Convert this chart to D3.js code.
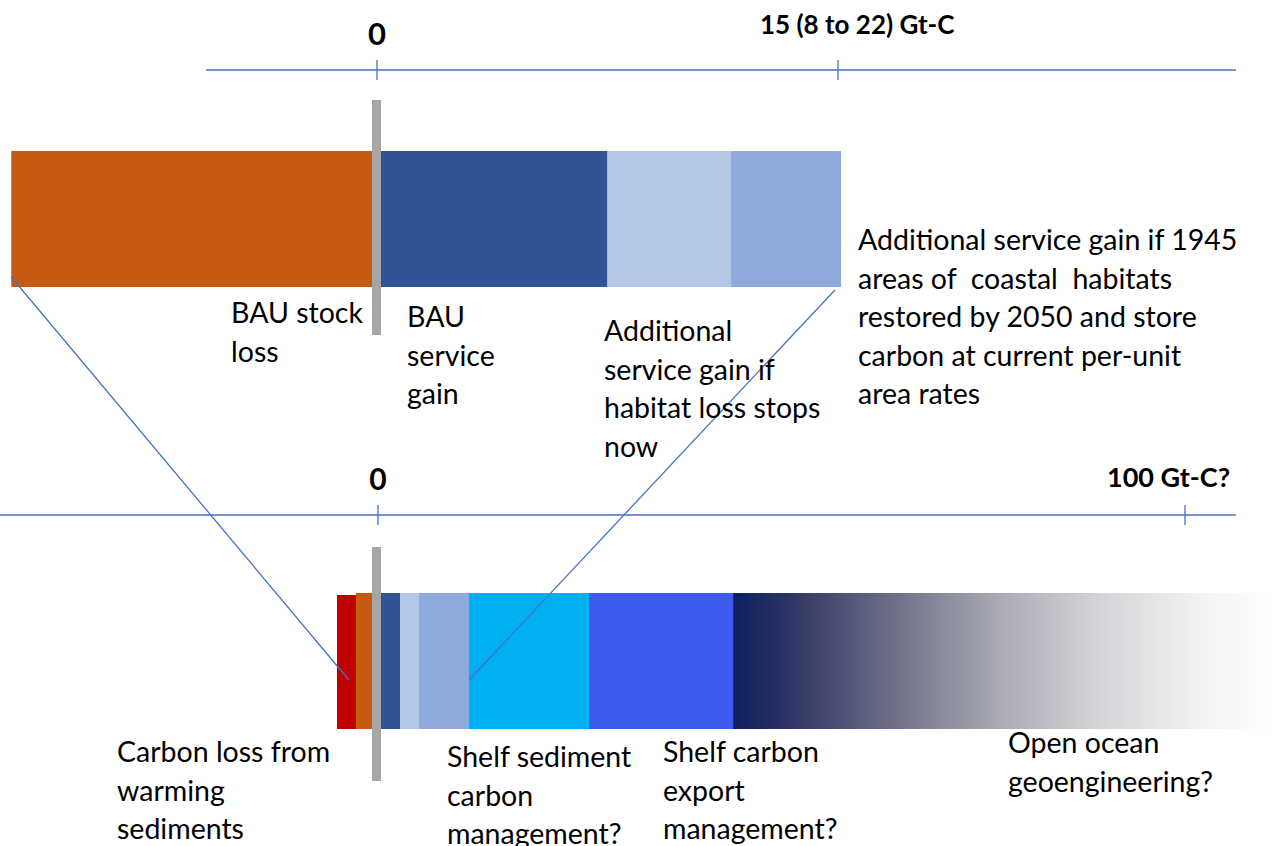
<!DOCTYPE html>
<html>
<head>
<meta charset="utf-8">
<script src="https://cdn.jsdelivr.net/npm/d3@7"></script>
<style>
  body { margin: 0; background: #fff; }
  text { font-family: Lato, "Open Sans", sans-serif; fill: #000; }
</style>
</head>
<body>
<div id="chart"></div>
<script>
// top panel: coastal habitats (Gt-C)
const topNames = ["BAU stock loss", "BAU service gain", "Additional gain if loss stops", "Additional gain if 1945 areas restored"];
const topValues = [-11.9, 7.5, 4.0, 3.6];
const topColors = ["#C55A11", "#2F5597", "#B4C7E7", "#8FAADC"];
const topTicks = [0, 15];
const topTickLabels = ["0", "15 (8 to 22) Gt-C"];

// bottom panel: all options (Gt-C)
const bottomNames = ["Carbon loss from warming sediments", "BAU stock loss", "BAU service gain", "Additional gain if loss stops",
  "Additional gain if restored", "Shelf sediment carbon management", "Shelf carbon export management", "Open ocean geoengineering"];
const bottomValues = [-2.35, -2.73, 2.73, 2.35, 6.2, 14.87, 17.85, 66.5];
const bottomColors = ["#C00000", "#C55A11", "#2F5597", "#B4C7E7", "#8FAADC", "#00B0F0", "#3C5AEE", "url(#fade)"];
const bottomTicks = [0, 100];
const bottomTickLabels = ["0", "100 Gt-C?"];

// zoom lines linking top bar to bottom bar
const connectors = [{ top: -11.9, bottom: -3.6 }, { top: 14.9, bottom: 11.3 }];

const width = 1281, height = 846;
const svg = d3.select("#chart").append("svg")
  .attr("width", width).attr("height", height);

const defs = svg.append("defs");
const grad = defs.append("linearGradient").attr("id", "fade")
  .attr("x1", "0%").attr("x2", "100%").attr("y1", "0%").attr("y2", "0%");
[[0, "#0B1F5E"], [0.12, "#333865"], [0.3, "#6E7087"], [0.5, "#ABABB5"], [0.7, "#D8D8DC"], [0.88, "#F3F3F3"], [1, "#FFFFFF"]]
  .forEach(s => grad.append("stop").attr("offset", s[0]).attr("stop-color", s[1]));

const xTop = d3.scaleLinear().domain([0, 15]).range([377, 838]);
const xBot = d3.scaleLinear().domain([0, 100]).range([378, 1185]);

const axisColor = "#4472C4";

function stack(values) {
  // negatives stack leftwards from 0, positives rightwards
  let neg = 0, pos = 0;
  const out = values.map(v => ({ v }));
  for (let i = values.length - 1; i >= 0; i--) {
    if (values[i] < 0) { out[i].x0 = neg + values[i]; out[i].x1 = neg; neg += values[i]; }
  }
  values.forEach((v, i) => {
    if (v >= 0) { out[i].x0 = pos; out[i].x1 = pos + v; pos += v; }
  });
  return out;
}

function drawAxis(x, y, extent, ticks, labels, labelPos) {
  const g = svg.append("g");
  g.append("line").attr("x1", extent[0]).attr("x2", extent[1])
    .attr("y1", y).attr("y2", y).attr("stroke", axisColor).attr("stroke-width", 1.3);
  g.selectAll(".tick").data(ticks).enter().append("line")
    .attr("x1", d => x(d)).attr("x2", d => x(d))
    .attr("y1", y - 10).attr("y2", y + 10)
    .attr("stroke", axisColor).attr("stroke-width", 1.3);
  g.selectAll(".lbl").data(ticks).enter().append("text")
    .attr("x", (d, i) => labelPos[i].dx == null ? x(d) : labelPos[i].dx)
    .attr("y", (d, i) => labelPos[i].y)
    .attr("text-anchor", (d, i) => labelPos[i].dx == null ? "middle" : "start")
    .style("font-weight", "bold")
    .style("font-size", (d, i) => labelPos[i].size + "px")
    .text((d, i) => labels[i]);
}

drawAxis(xTop, 70, [206, 1236], topTicks, topTickLabels,
  [{ y: 45, size: 31 }, { dx: 760, y: 34, size: 26 }]);
drawAxis(xBot, 515, [0, 1236], bottomTicks, bottomTickLabels,
  [{ y: 490, size: 30 }, { dx: 1107, y: 487, size: 27 }]);

// top bar
svg.append("g").selectAll("rect").data(stack(topValues)).enter().append("rect")
  .attr("x", d => xTop(d.x0)).attr("width", d => xTop(d.x1) - xTop(d.x0))
  .attr("y", 151).attr("height", 136)
  .attr("fill", (d, i) => topColors[i]);
svg.append("rect").attr("x", xTop(0) - 5).attr("width", 9)
  .attr("y", 100).attr("height", 235).attr("fill", "#A6A6A6");

// bottom bar
svg.append("g").selectAll("rect").data(stack(bottomValues)).enter().append("rect")
  .attr("x", d => xBot(d.x0)).attr("width", d => xBot(d.x1) - xBot(d.x0))
  .attr("y", (d, i) => i === 0 ? 595 : 593).attr("height", (d, i) => i === 0 ? 134 : 136)
  .attr("fill", (d, i) => bottomColors[i]);
svg.append("rect").attr("x", xBot(0) - 6).attr("width", 9)
  .attr("y", 547).attr("height", 234).attr("fill", "#A6A6A6");

// connectors
svg.append("g").selectAll("line").data(connectors).enter().append("line")
  .attr("x1", d => xTop(d.top)).attr("y1", (d, i) => i === 0 ? 277 : 290)
  .attr("x2", d => xBot(d.bottom)).attr("y2", 680)
  .attr("stroke", axisColor).attr("stroke-width", 1.3);

// labels
const notes = [
  { x: 231, y: 323, lines: ["BAU stock", "loss"] },
  { x: 407, y: 327, lines: ["BAU", "service", "gain"] },
  { x: 604, y: 341, lines: ["Additional", "service gain if", "habitat loss stops", "now"] },
  { x: 858, y: 250, lines: ["Additional service gain if 1945", "areas of  coastal  habitats", "restored by 2050 and store", "carbon at current per-unit", "area rates"] },
  { x: 117, y: 762, lines: ["Carbon loss from", "warming", "sediments"] },
  { x: 447, y: 767, lines: ["Shelf sediment", "carbon", "management?"] },
  { x: 663, y: 762, lines: ["Shelf carbon", "export", "management?"] },
  { x: 1008, y: 753, lines: ["Open ocean", "geoengineering?"] }
];
notes.forEach(n => {
  const t = svg.append("text").attr("x", n.x).attr("y", n.y)
    .style("font-size", "28.5px").attr("xml:space", "preserve");
  n.lines.forEach((l, i) => {
    t.append("tspan").attr("x", n.x).attr("dy", i === 0 ? 0 : 38.5).text(l);
  });
});
</script>
</body>
</html>
